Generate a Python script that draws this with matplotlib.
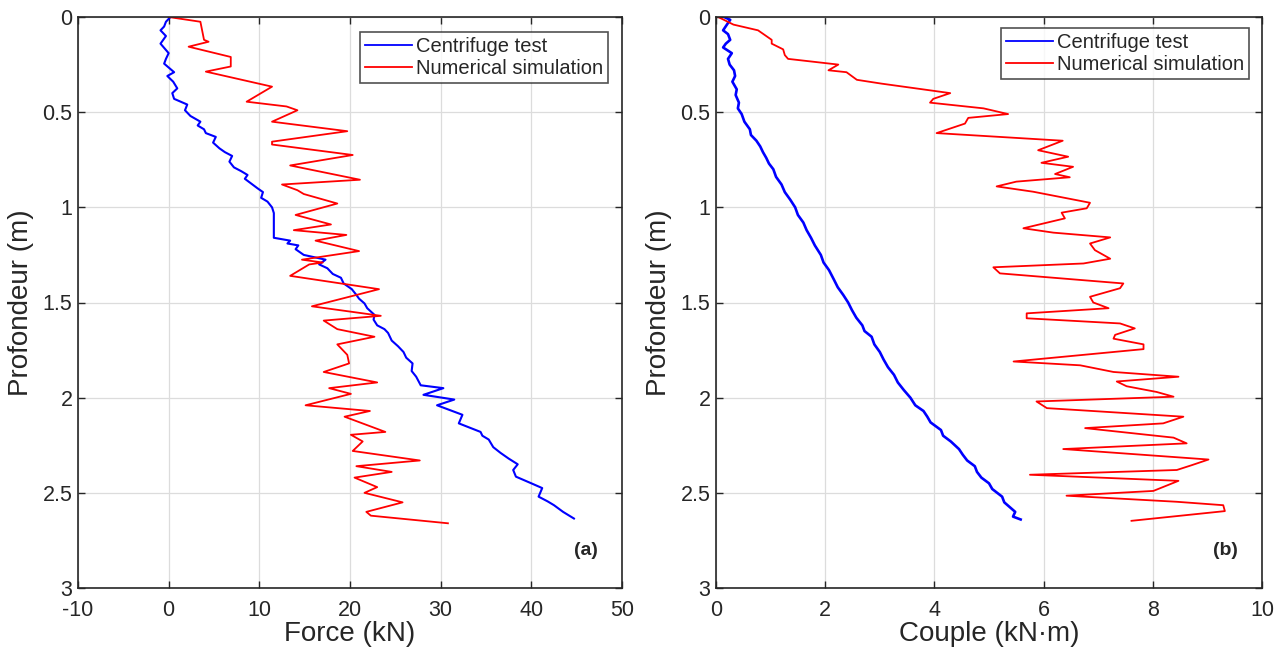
import matplotlib
matplotlib.use("Agg")
import matplotlib.pyplot as plt

plt.rcParams['font.family'] = ['Liberation Sans', 'DejaVu Sans']
plt.rcParams['axes.unicode_minus'] = False

# ---- Panel (a): force vs depth ----
force_test_depth = [0.0, 0.025, 0.05, 0.07, 0.10, 0.12, 0.14, 0.19, 0.22, 0.245, 0.29, 0.31,
                    0.34, 0.375, 0.40, 0.43, 0.46, 0.49, 0.52, 0.55, 0.57, 0.59, 0.61, 0.63,
                    0.66, 0.69, 0.71, 0.73, 0.76, 0.79, 0.81, 0.83, 0.85, 0.875, 0.90, 0.92,
                    0.95, 0.97, 1.0, 1.03, 1.16, 1.175, 1.19, 1.2, 1.22, 1.25, 1.275, 1.30,
                    1.32, 1.35, 1.37, 1.40, 1.43, 1.46, 1.48, 1.505, 1.53, 1.565, 1.59, 1.62,
                    1.64, 1.66, 1.70, 1.73, 1.76, 1.79, 1.82, 1.86, 1.89, 1.935, 1.95, 1.985,
                    2.01, 2.04, 2.09, 2.135, 2.18, 2.20, 2.22, 2.26, 2.29, 2.32, 2.35, 2.38,
                    2.415, 2.45, 2.475, 2.52, 2.545, 2.565, 2.60, 2.635]
force_test = [0.2, -0.3, -0.5, -0.9, -0.3, -0.6, -0.9, 0.0, -0.3, -0.5, 0.6, -0.15,
              0.5, 0.95, 0.4, 0.6, 2.05, 1.8, 2.4, 3.5, 3.2, 3.9, 4.1, 5.2,
              4.9, 5.6, 6.2, 7.0, 6.7, 7.2, 8.0, 8.7, 8.4, 9.1, 9.8, 10.4,
              10.2, 10.9, 11.4, 11.6, 11.6, 13.4, 13.1, 14.3, 14.0, 14.9, 17.3, 16.6,
              17.5, 18.1, 19.0, 19.3, 20.2, 20.7, 21.0, 21.6, 21.9, 22.7, 22.6, 23.0,
              23.8, 24.2, 24.6, 25.3, 25.9, 26.2, 26.9, 26.8, 27.3, 27.8, 30.3, 28.1,
              31.5, 29.6, 32.4, 32.0, 34.4, 34.6, 35.3, 35.8, 36.6, 37.5, 38.5, 38.0,
              38.3, 40.0, 41.2, 40.8, 41.8, 42.5, 43.5, 44.7]

force_sim_depth = [0.0, 0.025, 0.12, 0.13, 0.156, 0.21, 0.26, 0.287, 0.366, 0.445, 0.47, 0.49,
                   0.55, 0.60, 0.655, 0.67, 0.725, 0.78, 0.855, 0.88, 0.91, 0.93, 0.98, 1.04,
                   1.09, 1.12, 1.145, 1.175, 1.23, 1.275, 1.29, 1.30, 1.36, 1.43, 1.52, 1.57,
                   1.595, 1.64, 1.68, 1.72, 1.775, 1.82, 1.865, 1.92, 1.95, 1.98, 2.04, 2.07,
                   2.10, 2.18, 2.195, 2.23, 2.28, 2.33, 2.36, 2.39, 2.42, 2.47, 2.50, 2.55,
                   2.60, 2.62, 2.66]
force_sim = [0.0, 3.5, 3.9, 4.4, 2.2, 6.85, 6.85, 4.1, 11.4, 8.6, 13.0, 14.2,
             11.4, 19.7, 11.4, 11.4, 20.3, 13.4, 21.1, 12.5, 14.2, 14.9, 18.6, 14.0,
             17.9, 13.8, 19.6, 16.2, 21.0, 14.7, 17.0, 15.5, 13.4, 23.2, 15.8, 23.4,
             17.1, 18.6, 22.7, 18.6, 19.7, 19.9, 17.1, 23.0, 17.7, 20.1, 15.1, 22.2,
             19.4, 23.9, 20.1, 21.4, 20.3, 27.7, 20.7, 24.6, 20.5, 23.0, 21.6, 25.8,
             21.8, 22.3, 30.8]

# ---- Panel (b): couple vs depth ----
couple_test_depth = [0.0, 0.015, 0.04, 0.07, 0.09, 0.12, 0.14, 0.16, 0.19, 0.22, 0.25, 0.28,
                     0.31, 0.34, 0.38, 0.41, 0.45, 0.48, 0.51, 0.55, 0.59, 0.62, 0.65, 0.68,
                     0.71, 0.74, 0.77, 0.80, 0.84, 0.88, 0.92, 0.96, 1.0, 1.04, 1.08, 1.12,
                     1.16, 1.20, 1.25, 1.29, 1.33, 1.38, 1.42, 1.46, 1.5, 1.54, 1.58, 1.62,
                     1.65, 1.68, 1.72, 1.76, 1.80, 1.84, 1.88, 1.92, 1.96, 2.0, 2.04, 2.07,
                     2.10, 2.13, 2.17, 2.20, 2.23, 2.27, 2.30, 2.33, 2.36, 2.39, 2.42, 2.45,
                     2.48, 2.52, 2.55, 2.58, 2.60, 2.625, 2.64]
couple_test = [0.15, 0.26, 0.20, 0.13, 0.22, 0.26, 0.18, 0.13, 0.29, 0.22, 0.25, 0.33,
               0.35, 0.30, 0.38, 0.36, 0.42, 0.40, 0.47, 0.52, 0.62, 0.64, 0.74, 0.81,
               0.86, 0.92, 0.97, 1.05, 1.10, 1.20, 1.26, 1.36, 1.45, 1.50, 1.60, 1.66,
               1.74, 1.81, 1.92, 1.97, 2.07, 2.16, 2.23, 2.33, 2.42, 2.49, 2.57, 2.68,
               2.72, 2.85, 2.90, 3.00, 3.07, 3.15, 3.26, 3.33, 3.44, 3.56, 3.65, 3.80,
               3.87, 3.93, 4.12, 4.16, 4.30, 4.45, 4.52, 4.60, 4.74, 4.78, 4.86, 5.00,
               5.06, 5.24, 5.28, 5.40, 5.48, 5.44, 5.58]

couple_sim_depth = [0.0, 0.04, 0.07, 0.12, 0.14, 0.17, 0.20, 0.22, 0.25, 0.28, 0.29, 0.33,
                    0.35, 0.40, 0.43, 0.45, 0.48, 0.51, 0.53, 0.56, 0.61, 0.65, 0.70, 0.734,
                    0.766, 0.787, 0.825, 0.842, 0.865, 0.89, 0.918, 0.976, 1.005, 1.028, 1.058, 1.11,
                    1.133, 1.158, 1.19, 1.225, 1.27, 1.295, 1.315, 1.347, 1.40, 1.425, 1.47, 1.50,
                    1.53, 1.557, 1.583, 1.61, 1.636, 1.67, 1.69, 1.72, 1.745, 1.81, 1.83, 1.865,
                    1.89, 1.915, 1.94, 1.97, 1.995, 2.02, 2.055, 2.10, 2.135, 2.16, 2.21, 2.24,
                    2.27, 2.325, 2.355, 2.38, 2.405, 2.437, 2.49, 2.515, 2.547, 2.565, 2.596, 2.647]
couple_sim = [0.04, 0.32, 0.77, 1.02, 1.02, 1.23, 1.26, 1.32, 2.24, 2.06, 2.39, 2.58,
              3.03, 4.29, 3.98, 3.92, 4.90, 5.35, 4.62, 4.56, 4.04, 6.35, 5.9, 6.45,
              5.96, 6.54, 6.21, 6.48, 5.5, 5.14, 5.81, 6.85, 6.79, 6.33, 6.39, 5.63,
              6.18, 7.22, 6.85, 6.94, 7.22, 6.73, 5.08, 5.20, 7.46, 7.40, 6.85, 6.91,
              7.19, 5.69, 5.69, 7.40, 7.67, 7.31, 7.28, 7.83, 7.83, 5.45, 6.67, 7.28,
              8.47, 7.34, 7.52, 8.07, 8.38, 5.87, 6.06, 8.56, 8.19, 6.76, 8.38, 8.62,
              6.36, 9.02, 8.71, 8.44, 5.75, 8.47, 8.01, 6.42, 8.44, 9.29, 9.32, 7.61]

y_ticks = [0, 0.5, 1, 1.5, 2, 2.5, 3]
y_tick_labels = ["0", "0.5", "1", "1.5", "2", "2.5", "3"]
force_ticks = [-10, 0, 10, 20, 30, 40, 50]
couple_ticks = [0, 2, 4, 6, 8, 10]
legend_labels = ["Centrifuge test", "Numerical simulation"]

W, H = 1283, 655
fig = plt.figure(figsize=(W / 100, H / 100), dpi=100)
ax1 = fig.add_axes([78 / W, 1 - 588 / H, 544 / W, 571 / H])
ax2 = fig.add_axes([716 / W, 1 - 588 / H, 546 / W, 571 / H])

dark = '#262626'

def style(ax, xticks, xlabel, tag, legend_anchor):
    ax.set_ylim(3, 0)
    ax.set_xlim(xticks[0], xticks[-1])
    ax.set_xticks(xticks)
    ax.set_yticks(y_ticks)
    ax.set_yticklabels(y_tick_labels)
    ax.grid(True, color='#dcdcdc', linewidth=0.9)
    ax.set_axisbelow(True)
    ax.tick_params(direction='in', top=True, right=True, length=5, width=1,
                   colors=dark, labelsize=15.5, labelcolor=dark)
    ax.tick_params(axis='x', pad=8.5)
    ax.tick_params(axis='y', pad=4)
    for s in ax.spines.values():
        s.set_color(dark)
        s.set_linewidth(1.2)
    ax.set_xlabel(xlabel, fontsize=20, color=dark, labelpad=0)
    ax.set_ylabel("Profondeur (m)", fontsize=20, color=dark, labelpad=6)
    ax.text(0.955, 0.065, tag, transform=ax.transAxes, fontsize=14, fontweight='bold',
            ha='right', va='center', color=dark)
    leg = ax.legend(legend_labels, loc='upper right', bbox_to_anchor=legend_anchor,
                    fontsize=14.5, frameon=True, fancybox=False, handlelength=2.3,
                    handletextpad=0.2, borderpad=0.25, labelspacing=0.15,
                    borderaxespad=0)
    leg.get_frame().set_edgecolor(dark)
    leg.get_frame().set_linewidth(1.2)
    for t in leg.get_texts():
        t.set_color(dark)
    for h in leg.get_lines():
        h.set_linewidth(1.3)

ax1.plot(force_test, force_test_depth, color='#0000ff', lw=1.5)
ax1.plot(force_sim, force_sim_depth, color='#ff0000', lw=1.3)
style(ax1, force_ticks, "Force (kN)", "(a)", (1 - 14 / 544, 1 - 15 / 571))

ax2.plot(couple_test, couple_test_depth, color='#0000ff', lw=1.9)
ax2.plot(couple_sim, couple_sim_depth, color='#ff0000', lw=1.3)
style(ax2, couple_ticks, "Couple (kN\u00b7m)", "(b)", (1 - 13 / 546, 1 - 11 / 571))

fig.savefig("out.png", dpi=100, facecolor='white')
